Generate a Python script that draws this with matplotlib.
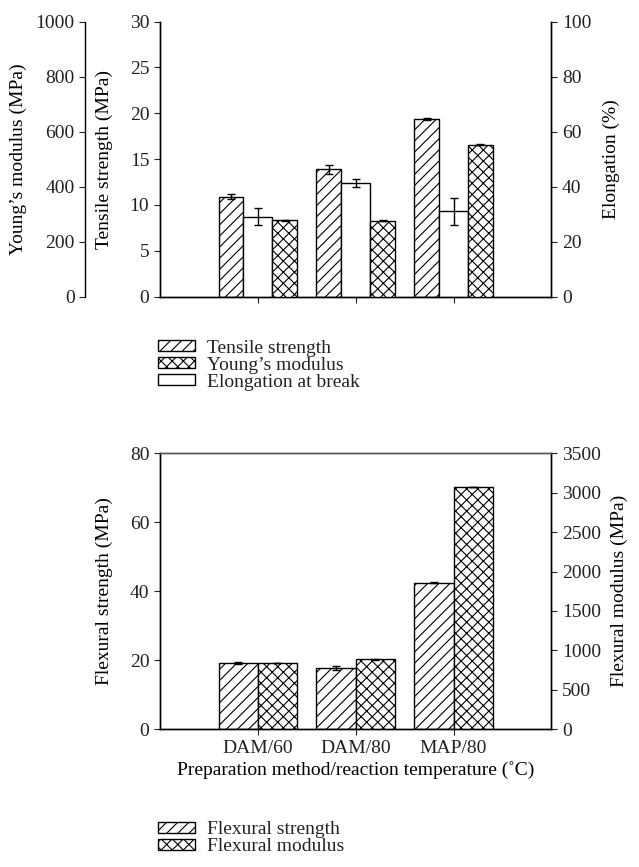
import matplotlib
matplotlib.use("Agg")
import matplotlib.pyplot as plt
from matplotlib.patches import Patch
import numpy as np

plt.rcParams.update({"font.family": ["Liberation Serif", "DejaVu Serif"], "font.size": 14,
                     "hatch.linewidth": 0.8, "axes.linewidth": 1.0,
                     "xtick.major.size": 4, "ytick.major.size": 4,
                     "text.color": "#222222", "xtick.color": "#222222", "ytick.color": "#222222"})

categories = ["DAM/60", "DAM/80", "MAP/80"]
tensile = [10.9, 13.9, 19.4]
tensile_err = [0.3, 0.5, 0.1]
elongation = [29.1, 41.3, 31.0]
elongation_err = [3.1, 1.5, 5.0]
young = [277, 275, 553]
young_err = [3, 2, 2]
flex_strength = [19.2, 17.8, 42.5]
flex_strength_err = [0.4, 0.5, 0.2]
flex_modulus = [840, 889, 3075]
flex_modulus_err = [5, 5, 5]

x = np.arange(1, len(categories) + 1)
bar_kw = dict(edgecolor="black", linewidth=1.0, facecolor="white")
err_kw = dict(ecolor="black", elinewidth=1.0, capsize=3, capthick=1.0)
leg_kw = dict(frameon=False, handlelength=1.9, handleheight=0.5, labelspacing=0.0,
              handletextpad=0.65, borderaxespad=0, borderpad=0, fontsize=14)

fig = plt.figure(figsize=(6.39, 8.67), dpi=100)

# ---- top panel: tensile ----
ax = fig.add_axes([0.250, 0.658, 0.613, 0.317])
ax.bar(x - 0.275, tensile, 0.25, yerr=tensile_err, hatch="///", error_kw=err_kw, **bar_kw)
ax.set_xlim(0, 4)
ax.set_ylim(0, 30)
ax.set_yticks(range(0, 31, 5))
ax.set_xticks(x)
ax.set_xticklabels([])
ax.spines["top"].set_visible(False)
ax.set_ylabel("Tensile strength (MPa)", labelpad=12)

ax_e = ax.twinx()
ax_e.bar(x, elongation, 0.30, yerr=elongation_err, error_kw=err_kw, **bar_kw)
ax_e.set_ylim(0, 100)
ax_e.set_yticks(range(0, 101, 20))
ax_e.spines["top"].set_visible(False)
ax_e.set_ylabel("Elongation (%)", labelpad=8)

ax_y = ax.twinx()
ax_y.bar(x + 0.275, young, 0.25, yerr=young_err, hatch="xxx", error_kw=err_kw, **bar_kw)
ax_y.set_ylim(0, 1000)
ax_y.set_yticks(range(0, 1001, 200))
ax_y.spines["left"].set_position(("axes", -0.191))
ax_y.spines["left"].set_visible(True)
for s in ("right", "top", "bottom"):
    ax_y.spines[s].set_visible(False)
ax_y.yaxis.set_ticks_position("left")
ax_y.yaxis.set_label_position("left")
ax_y.set_ylabel("Young’s modulus (MPa)", labelpad=6)

fig.legend(handles=[Patch(hatch="///", **bar_kw), Patch(hatch="xxx", **bar_kw), Patch(**bar_kw)],
           labels=["Tensile strength", "Young’s modulus", "Elongation at break"],
           loc="center left", bbox_to_anchor=(0.247, 0.579), **leg_kw)

# ---- bottom panel: flexural ----
bx = fig.add_axes([0.250, 0.159, 0.613, 0.318])
bx.bar(x - 0.2, flex_strength, 0.4, yerr=flex_strength_err, hatch="///", error_kw=err_kw, **bar_kw)
bx.set_xlim(0, 4)
bx.set_ylim(0, 80)
bx.set_yticks(range(0, 81, 20))
bx.set_xticks(x)
bx.set_xticklabels(categories)
bx.spines["top"].set_color("#555555")
bx.set_ylabel("Flexural strength (MPa)", labelpad=12)
bx.set_xlabel("Preparation method/reaction temperature (˚C)", labelpad=3)

bx2 = bx.twinx()
bx2.bar(x + 0.2, flex_modulus, 0.4, yerr=flex_modulus_err, hatch="xxx", error_kw=err_kw, **bar_kw)
bx2.set_ylim(0, 3500)
bx2.set_yticks(range(0, 3501, 500))
bx2.spines["top"].set_color("#555555")
bx2.set_ylabel("Flexural modulus (MPa)", labelpad=7)

fig.legend(handles=[Patch(hatch="///", **bar_kw), Patch(hatch="xxx", **bar_kw)],
           labels=["Flexural strength", "Flexural modulus"],
           loc="center left", bbox_to_anchor=(0.247, 0.033), **leg_kw)

fig.savefig("out.png", dpi=100)
